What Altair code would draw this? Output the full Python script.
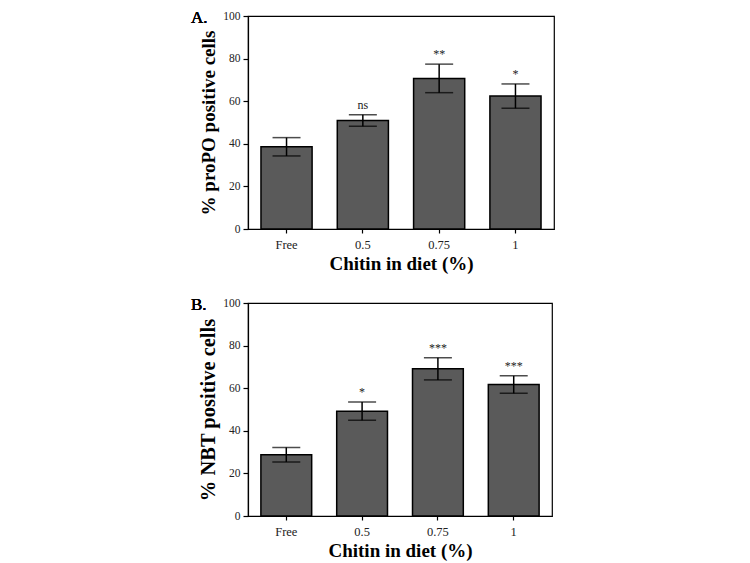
import altair as alt
import pandas as pd

doses = ["Free", "0.5", "0.75", "1"]
propo_mean = [38.6, 50.9, 70.7, 62.4]
propo_err = [4.3, 2.7, 6.7, 5.7]
propo_sig = ["", "ns", "**", "*"]
nbt_mean = [28.8, 49.2, 69.1, 61.7]
nbt_err = [3.4, 4.3, 5.2, 4.1]
nbt_sig = ["", "*", "***", "***"]

FONT = "Liberation Serif"


def panel(label, ytitle, ytitle_size, means, errs, sig, width, height):
    df = pd.DataFrame({
        "dose": doses,
        "mean": means,
        "lo": [m - e for m, e in zip(means, errs)],
        "hi": [m + e for m, e in zip(means, errs)],
        "sig": sig,
    })
    x = alt.X("dose:N", sort=doses, title="Chitin in diet (%)",
              scale=alt.Scale(paddingInner=0.33, paddingOuter=0.17),
              axis=alt.Axis(labelAngle=0, tickSize=4, labelPadding=5, titlePadding=4,
                            labelFontSize=12.5, titleFontSize=19))
    y = alt.Y("mean:Q", title=ytitle,
              scale=alt.Scale(domain=[0, 100], nice=False),
              axis=alt.Axis(values=[0, 20, 40, 60, 80, 100], tickSize=5,
                            labelPadding=3, titlePadding=4, grid=False,
                            labelFontSize=11.5, titleFontSize=ytitle_size))
    base = alt.Chart(df)
    bars = base.mark_bar(color="#5a5a5a", stroke="black", strokeWidth=1.5).encode(x=x, y=y)
    rule = base.mark_rule(color="black", strokeWidth=1.5).encode(
        x=alt.X("dose:N", sort=doses), y="lo:Q", y2="hi:Q")
    cap_lo = base.mark_tick(color="black", thickness=1.5, size=28, orient="horizontal").encode(
        x=alt.X("dose:N", sort=doses), y="lo:Q")
    cap_hi = base.mark_tick(color="black", thickness=1.5, size=28, orient="horizontal").encode(
        x=alt.X("dose:N", sort=doses), y="hi:Q")
    txt = base.mark_text(font=FONT, fontSize=12, baseline="bottom", dy=-3, color="#222").encode(
        x=alt.X("dose:N", sort=doses), y="hi:Q", text="sig:N")
    lab = base.mark_text(font=FONT, fontSize=17, align="left", baseline="middle",
                         color="black").encode(
        x=alt.value(-57), y=alt.value(2), text=alt.value(label))
    return alt.layer(bars, rule, cap_lo, cap_hi, txt, lab).properties(width=width, height=height)


a = panel("A.", "% proPO positive cells", 19, propo_mean, propo_err, propo_sig, 306, 213)
b = panel("B.", "% NBT positive cells", 20.5, nbt_mean, nbt_err, nbt_sig, 304, 213)

chart = alt.vconcat(a, b, spacing=20).properties(
    padding={"left": 182, "top": 0, "right": 5, "bottom": 5}
).configure_view(stroke="black", strokeWidth=1.2).configure_axis(
    labelFont=FONT, labelColor="#222",
    titleFont=FONT, titleFontWeight="bold", titleColor="black",
    domainColor="black", tickColor="black", domainWidth=1.2, tickWidth=1.2,
)

chart.save("out.html", embed_options={"renderer": "svg", "actions": False})
